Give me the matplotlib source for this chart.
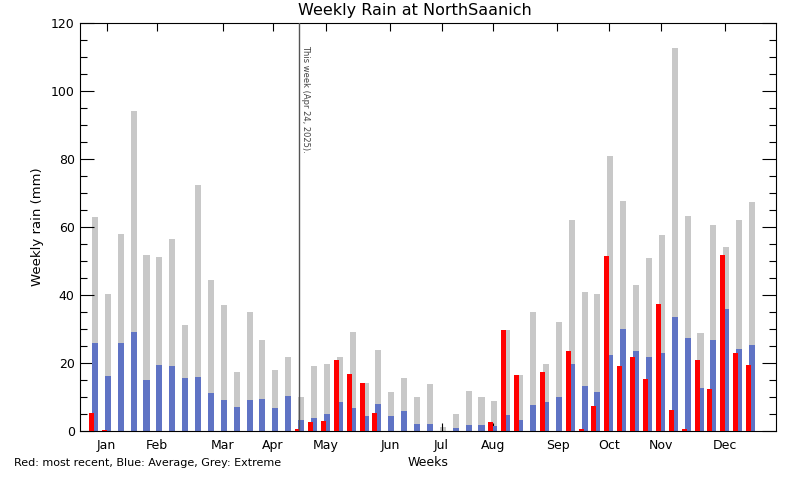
import numpy as np
import matplotlib
matplotlib.use('Agg')
from matplotlib import pyplot as plt

# weekly rain (mm), weeks 1..52
weeks = np.arange(1, 53)
extreme = [63.0, 40.3, 58.0, 94.3, 51.8, 51.2, 56.6, 31.3, 72.5, 44.5, 37.2, 17.5, 35.1,
           26.9, 18.0, 21.9, 10.1, 19.2, 19.8, 21.9, 29.2, 14.2, 23.9, 11.6, 15.7, 10.1,
           13.9, 1.3, 5.1, 11.9, 10.1, 8.9, 29.8, 16.6, 35.1, 19.8, 32.2, 62.1, 40.9,
           40.3, 81.0, 67.8, 43.1, 51.0, 57.8, 112.8, 63.3, 28.9, 60.6, 54.2, 62.1, 67.5]
average = [26.0, 16.3, 26.0, 29.2, 15.1, 19.5, 19.2, 15.7, 16.0, 11.3, 9.2, 7.2, 9.2,
           9.5, 6.9, 10.4, 3.3, 3.9, 5.1, 8.6, 6.9, 4.5, 8.0, 4.5, 6.0, 2.1,
           2.1, 0.0, 1.0, 1.9, 1.9, 1.6, 4.8, 3.3, 7.7, 8.6, 10.1, 19.8, 13.3,
           11.6, 22.5, 30.1, 23.6, 21.9, 23.1, 33.7, 27.5, 12.7, 26.9, 36.0, 24.2, 25.4]
recent = [5.4, 0.3, 0, 0, 0, 0, 0, 0, 0, 0, 0, 0, 0,
          0, 0, 0, 0.7, 2.7, 3.0, 21.0, 16.9, 14.2, 5.4, 0, 0, 0,
          0, 0, 0, 0, 0, 2.7, 29.8, 16.6, 0, 17.5, 0, 23.6, 0.7,
          7.5, 51.6, 19.2, 21.9, 15.4, 37.5, 6.3, 0.7, 21.0, 12.5, 51.9, 23.1, 19.5]

months = ['Jan', 'Feb', 'Mar', 'Apr', 'May', 'Jun', 'Jul', 'Aug', 'Sep', 'Oct', 'Nov', 'Dec']
month_pos = [1.9, 5.8, 10.9, 14.8, 18.9, 23.9, 27.9, 31.9, 36.9, 40.9, 44.9, 49.9]
this_week = 16.86

fig = plt.figure(figsize=(8, 4.8), dpi=100)
ax = fig.add_axes([80.3/800, 49/480, 695.7/800, 407.7/480])

ax.bar(weeks, extreme, width=0.47, color='#c8c8c8', zorder=1)
ax.bar(weeks, average, width=0.47, color='#5f73c4', zorder=2)
rec = np.array(recent)
m = rec > 0
ax.bar(weeks[m] - 0.27, rec[m], width=0.39, color='#ff0000', zorder=3)

ax.axvline(this_week, color='#555555', lw=1, zorder=4)
ax.text(this_week + 0.12, 113.5, 'This week (Apr 24, 2025).', rotation=270,
        ha='left', va='top', fontsize=6, color='#444444',
        family=['Liberation Sans Narrow', 'DejaVu Sans'])

ax.set_xlim(-0.14, 53.86)
ax.set_ylim(0, 120)
ax.set_xticks(month_pos)
ax.set_xticklabels(months, fontsize=9)
ax.set_yticks(np.arange(0, 121, 20))
ax.set_yticks(np.arange(0, 121, 5), minor=True)
ax.tick_params(axis='y', which='major', direction='in', length=10, width=0.8,
               left=True, right=True, labelsize=9, pad=4)
ax.tick_params(axis='y', which='minor', direction='in', length=5, width=0.8,
               left=True, right=True)
ax.tick_params(axis='x', which='major', direction='in', length=6, width=0.8,
               top=True, bottom=True, pad=6)
for s in ax.spines.values():
    s.set_linewidth(0.8)

fig.text(415/800, 1 - 11/480, 'Weekly Rain at NorthSaanich', ha='center', va='center', fontsize=11.5)
fig.text(37/800, 1 - 227/480, 'Weekly rain (mm)', rotation=90, ha='center', va='center', fontsize=9.5)
fig.text(428/800, 1 - 462/480, 'Weeks', ha='center', va='center', fontsize=9)
fig.text(14/800, 1 - 463/480, 'Red: most recent, Blue: Average, Grey: Extreme',
         ha='left', va='center', fontsize=8)

fig.savefig('out.png', dpi=100)
